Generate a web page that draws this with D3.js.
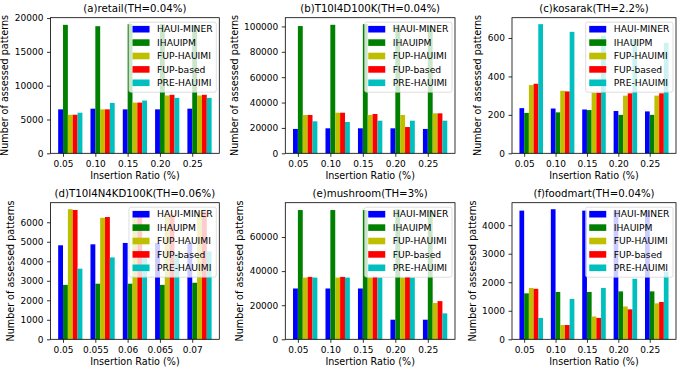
<!DOCTYPE html>
<html>
<head>
<meta charset="utf-8">
<script src="https://cdn.jsdelivr.net/npm/d3@7"></script>
<style>
  body { margin: 0; background: #fff; }
  text { font-family: "DejaVu Sans", sans-serif; fill: #000; }
</style>
</head>
<body>
<div id="chart"></div>
<script>
const width = 685,
    height = 369;

// data
const methods = ["HAUI-MINER", "IHAUIPM", "FUP-HAUIMI", "FUP-based", "PRE-HAUIMI"];
const colors = ["#0000ff", "#008000", "#bfbf00", "#ff0000", "#00bfbf"];
const ratios = ["0.05", "0.10", "0.15", "0.20", "0.25"];
const ratiosD = ["0.05", "0.055", "0.06", "0.065", "0.07"];
const titles = ["(a)retail(TH=0.04%)", "(b)T10I4D100K(TH=0.04%)", "(c)kosarak(TH=2.2%)",
    "(d)T10I4N4KD100K(TH=0.06%)", "(e)mushroom(TH=3%)", "(f)foodmart(TH=0.04%)"];

const retail = [
    [6500, 6600, 6500, 6500, 6600],
    [19000, 18800, 19100, 19100, 19000],
    [5700, 6500, 7500, 8550, 8550],
    [5700, 6500, 7500, 8650, 8650],
    [6000, 7450, 7800, 8200, 8200]
];
const t10i4d100k = [
    [19200, 19700, 19700, 19700, 19200],
    [100300, 101300, 101800, 101300, 100300],
    [30200, 32000, 30200, 30200, 31500],
    [30200, 32000, 31000, 20700, 31500],
    [25200, 24700, 25700, 25700, 25700]
];
const kosarak = [
    [235, 233, 228, 220, 218],
    [210, 213, 225, 200, 200],
    [355, 325, 315, 300, 300],
    [362, 322, 315, 312, 312],
    [672, 632, 612, 595, 575]
];
const t10i4n4k = [
    [4820, 4870, 4940, 4940, 4950],
    [2790, 2850, 2850, 2790, 2900],
    [6670, 6230, 6400, 6450, 6550],
    [6630, 6270, 6350, 6400, 6550],
    [3620, 4200, 4300, 4400, 4500]
];
const mushroom = [
    [29800, 29800, 29800, 11500, 11500],
    [75800, 75800, 75800, 76300, 75800],
    [36200, 36200, 36200, 36200, 21300],
    [36600, 36600, 36600, 36600, 22400],
    [36200, 36200, 36200, 36200, 15200]
];
const foodmart = [
    [4510, 4560, 4510, 4530, 4510],
    [1610, 1660, 1660, 1680, 1680],
    [1800, 500, 800, 1150, 1260],
    [1770, 500, 750, 1050, 1310],
    [750, 1415, 1800, 2120, 2370]
];

const yTicksA = [0, 5000, 10000, 15000, 20000];
const yTicksB = [0, 20000, 40000, 60000, 80000, 100000];
const yTicksC = [0, 200, 400, 600];
const yTicksD = [0, 1000, 2000, 3000, 4000, 5000, 6000];
const yTicksE = [0, 20000, 40000, 60000];
const yTicksF = [0, 1000, 2000, 3000, 4000];

const panels = [
    {title: titles[0], values: retail, xLabels: ratios, yTicks: yTicksA},
    {title: titles[1], values: t10i4d100k, xLabels: ratios, yTicks: yTicksB},
    {title: titles[2], values: kosarak, xLabels: ratios, yTicks: yTicksC},
    {title: titles[3], values: t10i4n4k, xLabels: ratiosD, yTicks: yTicksD},
    {title: titles[4], values: mushroom, xLabels: ratios, yTicks: yTicksE},
    {title: titles[5], values: foodmart, xLabels: ratios, yTicks: yTicksF}
];

// axes frames in pixels
const cols = [[50.5, 219.3], [285.3, 455], [512, 676]];
const rows = [[17.7, 153.3], [202.7, 339.3]];

const barW = 0.15,
    tickFont = 9,
    labelFont = 9.6,
    titleFont = 10.2,
    legendFont = 9.2;

const svg = d3.select("#chart")
  .append("svg")
  .attr("width", width)
  .attr("height", height)
  .attr("viewBox", [0, 0, width, height]);

panels.forEach(function(p, n) {
    const [left, right] = cols[n % 3],
        [top, bottom] = rows[Math.floor(n / 3)];
    const g = svg.append("g");

    const yMax = d3.max(p.values, function(s) { return d3.max(s); }) * 1.05;
    const x = d3.scaleLinear().domain([-0.15 - 0.2375, 4.6 + 0.2375]).range([left, right]);
    const y = d3.scaleLinear().domain([0, yMax]).range([bottom, top]);

    // bars
    p.values.forEach(function(series, k) {
        g.selectAll(".bar" + k)
          .data(series)
          .enter().append("rect")
          .attr("x", function(d, i) { return x(i - barW + k * barW); })
          .attr("width", function(d, i) { return x(i + k * barW) - x(i - barW + k * barW); })
          .attr("y", function(d) { return y(d); })
          .attr("height", function(d) { return y(0) - y(d); })
          .attr("fill", colors[k]);
    });

    // axes
    const xAxis = d3.axisBottom(x)
        .tickValues(d3.range(p.xLabels.length))
        .tickFormat(function(d) { return p.xLabels[d]; })
        .tickSize(3.5).tickPadding(3.5);
    const xg = g.append("g").attr("transform", "translate(0," + bottom + ")").call(xAxis);

    const yAxis = d3.axisLeft(y)
        .tickValues(p.yTicks)
        .tickFormat(d3.format("d"))
        .tickSize(3.5).tickPadding(3.5);
    const yg = g.append("g").attr("transform", "translate(" + left + ",0)").call(yAxis);

    [xg, yg].forEach(function(a) {
        a.select(".domain").remove();
        a.selectAll(".tick line").attr("stroke", "#000").attr("stroke-width", 0.8);
        a.selectAll(".tick text").attr("font-size", tickFont).attr("font-family", "DejaVu Sans").attr("fill", "#000");
    });

    g.append("rect")
      .attr("x", left).attr("y", top)
      .attr("width", right - left).attr("height", bottom - top)
      .attr("fill", "none").attr("stroke", "#000").attr("stroke-width", 0.8);

    let tickW = 0;
    yg.selectAll(".tick text").each(function() { tickW = Math.max(tickW, this.getComputedTextLength()); });

    g.append("text")
      .attr("transform", "translate(" + (left - 7 - tickW - 4 - labelFont * 0.25) + "," + ((top + bottom) / 2) + ") rotate(-90)")
      .attr("text-anchor", "middle")
      .attr("font-size", labelFont)
      .text("Number of assessed patterns");

    g.append("text")
      .attr("x", (left + right) / 2)
      .attr("y", bottom + 26)
      .attr("text-anchor", "middle")
      .attr("font-size", labelFont)
      .text("Insertion Ratio (%)");

    g.append("text")
      .attr("x", (left + right) / 2)
      .attr("y", top - 6)
      .attr("text-anchor", "middle")
      .attr("font-size", titleFont)
      .text(p.title);

    // legend, upper right
    const lg = g.append("g");
    const box = lg.append("rect");
    const pitch = 13.4;
    const items = lg.selectAll(".item")
        .data(methods)
        .enter().append("g")
        .attr("class", "item");
    const labels = items.append("text")
        .attr("font-size", legendFont)
        .attr("dy", "0.35em")
        .text(function(d) { return d; });
    let textW = 0;
    labels.each(function() { textW = Math.max(textW, this.getComputedTextLength()); });
    const boxW = 3.6 + 17 + 7.5 + textW + 3.6,
        boxH = 5 * pitch + 3,
        bx = right - 3 - boxW,
        by = top + 4.5;
    box.attr("x", bx).attr("y", by)
      .attr("width", boxW).attr("height", boxH)
      .attr("rx", 2)
      .attr("fill", "#fff").attr("fill-opacity", 0.8)
      .attr("stroke", "#cccccc").attr("stroke-opacity", 0.8).attr("stroke-width", 0.8);
    items.append("rect")
      .attr("x", bx + 3.6)
      .attr("y", function(d, i) { return by + 7 + i * pitch - 3.3; })
      .attr("width", 17)
      .attr("height", 6.6)
      .attr("fill", function(d, i) { return colors[i]; });
    labels
      .attr("x", bx + 3.6 + 17 + 7.5)
      .attr("y", function(d, i) { return by + 7 + i * pitch; });
});
</script>
</body>
</html>
